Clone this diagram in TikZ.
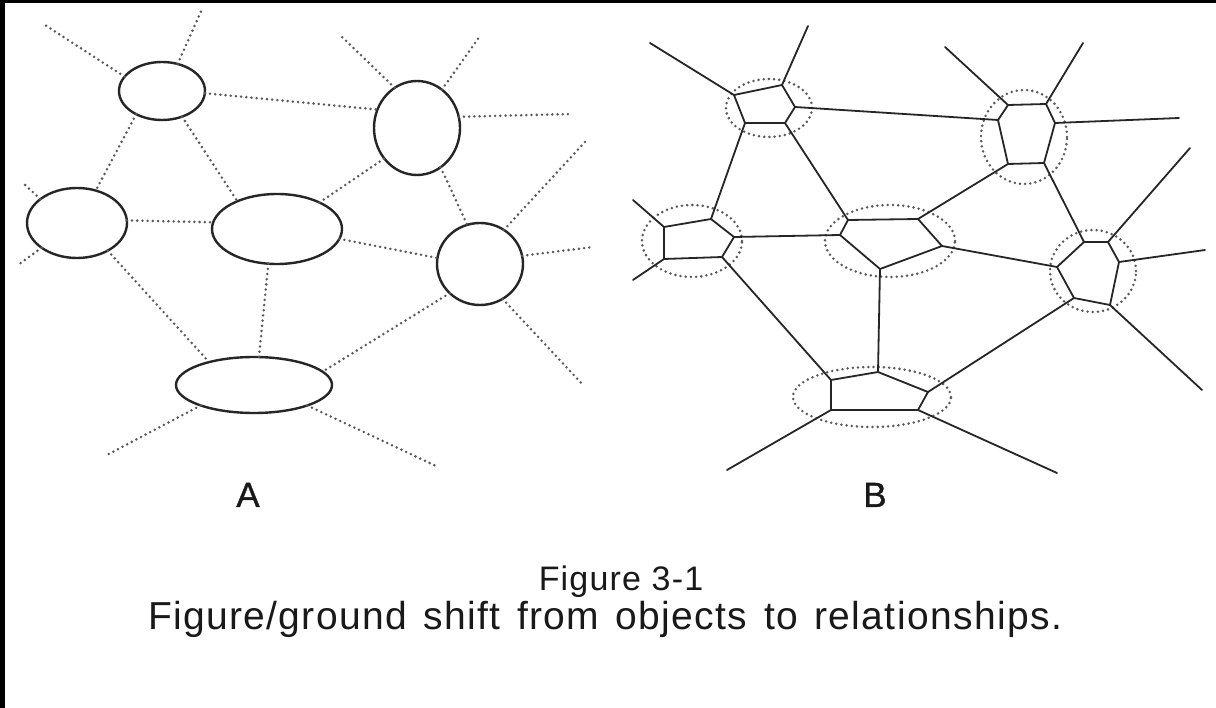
\documentclass[tikz,border=0pt]{standalone}
\usepackage{fontspec}
\setmainfont{Liberation Sans}
\newfontfamily\capfont[LetterSpace=3.5]{Liberation Sans}
\newfontfamily\tagfont[FakeBold=1]{Liberation Sans}
\usetikzlibrary{shapes.geometric}
\begin{document}
\begin{tikzpicture}[x=1pt,y=-1pt,
  blob/.style={ellipse, draw=black!85, line width=2.4pt, inner sep=0pt, outer sep=0pt},
  dots/.style={draw=black!65, line width=2.8pt, line cap=round, dash pattern=on 0pt off 5.2pt},
  ring/.style={ellipse, dots, inner sep=0pt, outer sep=0pt},
  link/.style={draw=black!85, line width=1.8pt, line join=round, line cap=round},
  lbl/.style={font=\tagfont\fontsize{35}{35}\selectfont, anchor=base, inner sep=0pt, text=black!90},
  captext/.style={anchor=base, inner sep=0pt, text=black!90}
]
% canvas and scan edges
\fill[white] (0,0) rectangle (1216,708);
\useasboundingbox (0,0) rectangle (1216,708);
\fill[black] (0,0) rectangle (1216,3);
\fill[black] (0,0) rectangle (5,708);

% ---------------- panel A: objects ----------------
\node[blob, minimum width=86pt, minimum height=58pt]  (etl) at (162,91)  {};
\node[blob, minimum width=86pt, minimum height=94pt]  (etr) at (417,128) {};
\node[blob, minimum width=100pt, minimum height=70pt] (el)  at (77,223)  {};
\node[blob, minimum width=130pt, minimum height=70pt] (ec)  at (277,229) {};
\node[blob, minimum width=86pt, minimum height=82pt]  (er)  at (480,264) {};
\node[blob, minimum width=156pt, minimum height=56pt] (eb)  at (254,385) {};

\coordinate (a1) at (45,25);
\coordinate (a2) at (203,7);
\coordinate (a3) at (23,183);
\coordinate (a4) at (18,265);
\coordinate (a5) at (340,35);
\coordinate (a6) at (480,36);
\coordinate (a7) at (572,114);
\coordinate (a8) at (585,142);
\coordinate (a9) at (593,247);
\coordinate (a10) at (583,385);
\coordinate (a11) at (105,456);
\coordinate (a12) at (436,466);

% links between objects
\draw[dots] (etl.-3)  -- (etr.155);
\draw[dots] (etl.222) -- (el.60);
\draw[dots] (etl.308) -- (ec.145);
\draw[dots] (el.3)    -- (ec.174);
\draw[dots] (el.318)  -- (eb.153);
\draw[dots] (ec.32)   -- (etr.223);
\draw[dots] (ec.351)  -- (er.172);
\draw[dots] (ec.256)  -- (eb.80);
\draw[dots] (etr.301) -- (er.108);
\draw[dots] (er.224)  -- (eb.11);
% loose ends
\draw[dots] (etl.159) -- (a1);
\draw[dots] (etl.60)  -- (a2);
\draw[dots] (el.147)  -- (a3);
\draw[dots] (el.215)  -- (a4);
\draw[dots] (etr.119) -- (a5);
\draw[dots] (etr.57)  -- (a6);
\draw[dots] (etr.15)  -- (a7);
\draw[dots] (er.55)   -- (a8);
\draw[dots] (er.11)   -- (a9);
\draw[dots] (er.303)  -- (a10);
\draw[dots] (eb.201)  -- (a11);
\draw[dots] (eb.339)  -- (a12);

\node[lbl] (la) at (248,507) {A};

% ---------------- panel B: relationships ----------------
\node[ring, minimum width=86pt,  minimum height=58pt] (r1) at (769,108)  {};
\node[ring, minimum width=86pt,  minimum height=94pt] (r2) at (1024,137) {};
\node[ring, minimum width=100pt, minimum height=72pt] (r3) at (692,241)  {};
\node[ring, minimum width=130pt, minimum height=72pt] (r4) at (890,241)  {};
\node[ring, minimum width=86pt,  minimum height=82pt] (r5) at (1093,271) {};
\node[ring, minimum width=158pt, minimum height=60pt] (r6) at (872,397)  {};

% cell corners
\coordinate (p1a) at (734,95);  \coordinate (p1b) at (782,85);
\coordinate (p1c) at (795,107); \coordinate (p1d) at (785,123);
\coordinate (p1e) at (745,123);

\coordinate (p2a) at (1008,105); \coordinate (p2b) at (1046,104);
\coordinate (p2c) at (1055,123); \coordinate (p2d) at (1044,163);
\coordinate (p2e) at (1008,164); \coordinate (p2f) at (998,120);

\coordinate (p3a) at (664,227); \coordinate (p3b) at (711,219);
\coordinate (p3c) at (734,237); \coordinate (p3d) at (722,257);
\coordinate (p3e) at (664,259);

\coordinate (p4a) at (848,220); \coordinate (p4b) at (918,219);
\coordinate (p4c) at (942,246); \coordinate (p4d) at (880,269);
\coordinate (p4e) at (840,235);

\coordinate (p5a) at (1084,242); \coordinate (p5b) at (1108,242);
\coordinate (p5c) at (1119,262); \coordinate (p5d) at (1110,305);
\coordinate (p5e) at (1074,298); \coordinate (p5f) at (1057,267);

\coordinate (p6a) at (831,380); \coordinate (p6b) at (878,372);
\coordinate (p6c) at (928,392); \coordinate (p6d) at (918,410);
\coordinate (p6e) at (831,410);

% loose ends
\coordinate (b1) at (650,43);
\coordinate (b2) at (808,26);
\coordinate (b3) at (945,47);
\coordinate (b4) at (1083,43);
\coordinate (b5) at (1179,118);
\coordinate (b6) at (633,200);
\coordinate (b7) at (633,280);
\coordinate (b8) at (1190,148);
\coordinate (b9) at (1205,250);
\coordinate (b10) at (1202,390);
\coordinate (b11) at (727,470);
\coordinate (b12) at (1057,473);

% cells
\draw[link] (p1a) -- (p1b) -- (p1c) -- (p1d) -- (p1e) -- cycle;
\draw[link] (p2a) -- (p2b) -- (p2c) -- (p2d) -- (p2e) -- (p2f) -- cycle;
\draw[link] (p3a) -- (p3b) -- (p3c) -- (p3d) -- (p3e) -- cycle;
\draw[link] (p4a) -- (p4b) -- (p4c) -- (p4d) -- (p4e) -- cycle;
\draw[link] (p5a) -- (p5b) -- (p5c) -- (p5d) -- (p5e) -- (p5f) -- cycle;
\draw[link] (p6a) -- (p6b) -- (p6c) -- (p6d) -- (p6e) -- cycle;

% shared edges between cells
\draw[link] (p1c) -- (p2f);
\draw[link] (p1e) -- (p3b);
\draw[link] (p1d) -- (p4a);
\draw[link] (p2e) -- (p4b);
\draw[link] (p2d) -- (p5a);
\draw[link] (p3c) -- (p4e);
\draw[link] (p3d) -- (p6a);
\draw[link] (p4c) -- (p5f);
\draw[link] (p4d) -- (p6b);
\draw[link] (p5e) -- (p6c);

% outer edges
\draw[link] (p1a) -- (b1);
\draw[link] (p1b) -- (b2);
\draw[link] (p2a) -- (b3);
\draw[link] (p2b) -- (b4);
\draw[link] (p2c) -- (b5);
\draw[link] (p3a) -- (b6);
\draw[link] (p3e) -- (b7);
\draw[link] (p5b) -- (b8);
\draw[link] (p5c) -- (b9);
\draw[link] (p5d) -- (b10);
\draw[link] (p6e) -- (b11);
\draw[link] (p6d) -- (b12);

\node[lbl] (lb) at (875,507) {B};

% ---------------- caption ----------------
\node[captext, font=\capfont\fontsize{34}{36}\selectfont] (c1) at (621,590) {Figure 3-1};
\node[captext, font=\capfont\fontsize{39}{41}\selectfont] (c2) at (605,629)
  {\makebox[914pt][s]{Figure/ground shift from objects to relationships.}};
\end{tikzpicture}
\end{document}
